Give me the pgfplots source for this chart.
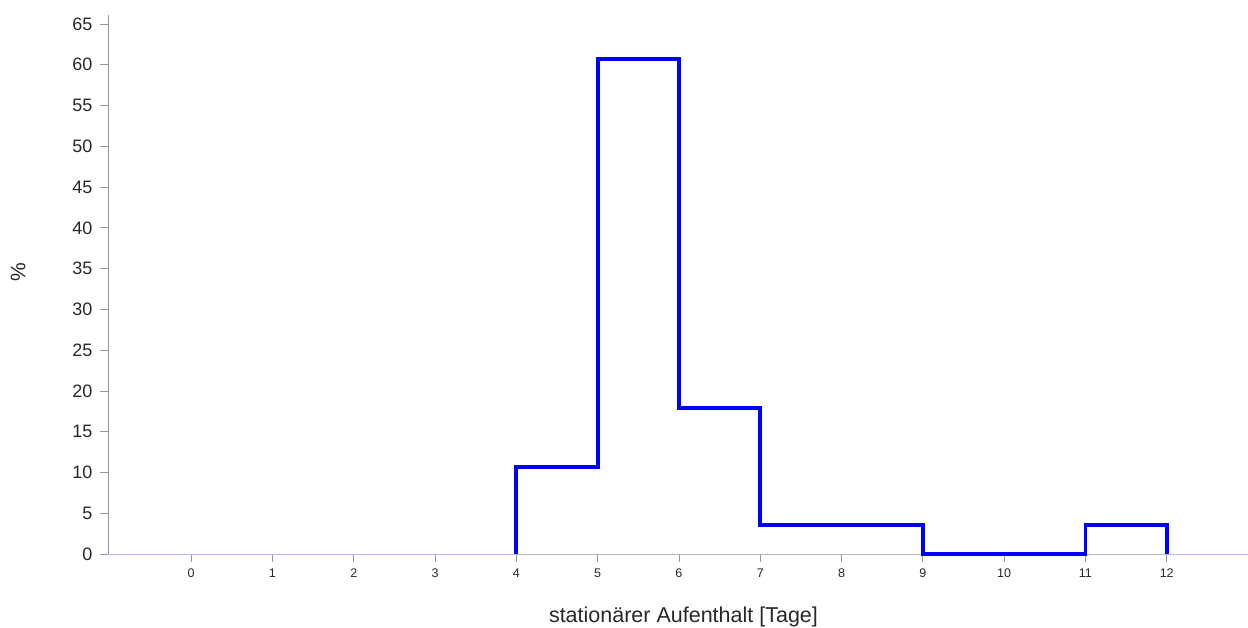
\documentclass[border=0pt]{standalone}
\usepackage{fontspec}
\setmainfont{Liberation Sans}
\usepackage{pgfplots}
\pgfplotsset{compat=1.18}
\definecolor{txt}{RGB}{40,40,40}
\definecolor{axgray}{RGB}{150,150,150}
\definecolor{lav}{RGB}{185,185,255}
\begin{document}
\begin{tikzpicture}
\begin{axis}[
  name=ax,
  scale only axis,
  width=1140pt, height=539pt,
  xmin=-1.023, xmax=13, ymin=0, ymax=66.1,
  axis lines=left,
  x axis line style={draw=none},
  y axis line style={axgray, -, line width=0.8pt},
  xtick={0,1,...,12},
  ytick={0,5,...,65},
  tick align=outside,
  major tick length=8pt,
  tick style={axgray, line width=0.8pt},
  /pgf/number format/assume math mode=true,
  xticklabel style={font=\fontsize{12.5}{14}\selectfont, text=txt, yshift=-3pt},
  yticklabel style={font=\fontsize{18}{20}\selectfont, text=txt, xshift=-4pt},
  xlabel={stationärer Aufenthalt [Tage]},
  xlabel style={at={(axis description cs:0.5048,-0.1169)}, anchor=center, font=\fontsize{21.5}{24}\selectfont, text=txt},
  ylabel={\%},
  ylabel style={at={(axis description cs:-0.0789,0.523)}, anchor=center, font=\fontsize{21}{24}\selectfont, text=txt},
  clip=false,
]
\addplot[lav, line width=1pt] coordinates {(-1.023,0) (13,0)};
\addplot[axgray!70, line width=0.8pt] coordinates {(4,0) (12,0)};
\addplot[blue, line width=3.8pt, const plot, line join=miter] coordinates {
 (4,0) (4,10.71) (5,60.71) (6,17.86) (7,3.57) (9,0) (11,3.57) (12,3.57) (12,0)};
\end{axis}
\pgfresetboundingbox
\path[use as bounding box] ([xshift=-108pt,yshift=-74pt]ax.south west) rectangle ([yshift=15pt]ax.north east);
\end{tikzpicture}
\end{document}
